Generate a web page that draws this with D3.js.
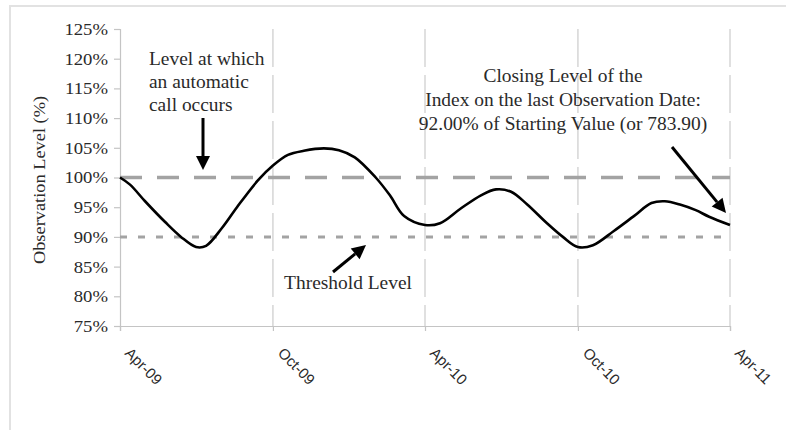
<!DOCTYPE html>
<html><head><meta charset="utf-8">
<script src="https://cdn.jsdelivr.net/npm/d3@7/dist/d3.min.js"></script>
<style>html,body{margin:0;padding:0;background:#fff;}</style>
</head><body><div id="chart"></div>
<script>
const obsDates = ["2009-04-01","2009-04-13","2009-05-01","2009-05-25","2009-06-13","2009-07-01","2009-07-13","2009-08-01","2009-08-19","2009-09-13","2009-10-01","2009-10-19","2009-11-07","2009-12-01","2009-12-19","2010-01-07","2010-02-01","2010-02-18","2010-03-07","2010-04-01","2010-04-19","2010-05-13","2010-06-07","2010-06-25","2010-07-13","2010-08-01","2010-08-25","2010-09-13","2010-10-01","2010-10-19","2010-11-13","2010-12-07","2010-12-28","2011-01-13","2011-02-01","2011-02-19","2011-03-07","2011-04-01"];
const obsLevels = [1.000,0.988,0.960,0.925,0.900,0.883,0.885,0.915,0.950,0.995,1.020,1.038,1.045,1.049,1.046,1.034,1.000,0.970,0.935,0.920,0.923,0.947,0.970,0.980,0.976,0.955,0.923,0.900,0.883,0.886,0.910,0.935,0.957,0.960,0.954,0.945,0.934,0.920];
const xTickDates = ["2009-04-01","2009-10-01","2010-04-01","2010-10-01","2011-04-01"];
const xTickLabels = ["Apr-09","Oct-09","Apr-10","Oct-10","Apr-11"];
const yTicks = [0.75,0.80,0.85,0.90,0.95,1.00,1.05,1.10,1.15,1.20,1.25];
const callLevel = 1.00;
const thresholdLevel = 0.90;
const annCall = ["Level at which","an automatic","call occurs"];
const annThreshold = ["Threshold Level"];
const annClose = ["Closing Level of the","Index on the last Observation Date:","92.00% of Starting Value (or 783.90)"];

const W=786,H=430;
const parse=d3.timeParse("%Y-%m-%d");
const svg=d3.select("#chart").append("svg").attr("width",W).attr("height",H);
const serif='"Liberation Serif","Times New Roman",serif';
const sans='"Liberation Sans",Arial,sans-serif';

svg.append("rect").attr("x",10).attr("y",6).attr("width",900).attr("height",600)
  .attr("fill","none").attr("stroke","#e2e2e2").attr("stroke-width",2);

const x=d3.scaleTime().domain([parse(xTickDates[0]),parse(xTickDates[xTickDates.length-1])]).range([120,730]);
const y=d3.scaleLinear().domain([0.75,1.25]).range([326,29]);

// vertical dashed grid
svg.append("g").selectAll("line").data(xTickDates.slice(1)).join("line")
  .attr("x1",d=>x(parse(d))).attr("x2",d=>x(parse(d)))
  .attr("y1",y(1.25)).attr("y2",y(0.75))
  .attr("stroke","#d6d6d6").attr("stroke-width",1.5).attr("stroke-dasharray","38,8");

// axes
const yAxis=svg.append("g").attr("transform","translate(120,0)")
  .call(d3.axisLeft(y).tickValues(yTicks).tickSize(6).tickPadding(7).tickFormat(d3.format(".0%")));
yAxis.select(".domain").attr("stroke","#c4c4c4").attr("stroke-width",1.2);
yAxis.selectAll(".tick line").attr("stroke","#c4c4c4").attr("stroke-width",1.2);
yAxis.selectAll(".tick text").attr("font-family",serif).attr("font-size",17).attr("fill","#2a2a2a")
  .attr("transform","scale(1.1,1)").attr("x",-12/1.1);

const xAxis=svg.append("g").attr("transform","translate(0,326)")
  .call(d3.axisBottom(x).tickValues(xTickDates.map(parse)).tickSize(5).tickFormat(""));
xAxis.select(".domain").attr("stroke","#c4c4c4").attr("stroke-width",1.2);
xAxis.selectAll(".tick line").attr("stroke","#c4c4c4").attr("stroke-width",1.2);
svg.append("g").selectAll("text").data(xTickDates).join("text")
  .attr("transform",d=>`translate(${x(parse(d))+4},${354}) rotate(45)`)
  .attr("font-family",sans).attr("font-size",15).attr("fill","#2a2a2a")
  .text((d,i)=>xTickLabels[i]);

// horizontal reference lines
svg.append("line").attr("x1",120).attr("x2",730).attr("y1",y(callLevel)).attr("y2",y(callLevel))
  .attr("stroke","#a3a3a3").attr("stroke-width",3.5).attr("stroke-dasharray","22,15");
svg.append("line").attr("x1",120).attr("x2",730).attr("y1",y(thresholdLevel)).attr("y2",y(thresholdLevel))
  .attr("stroke","#a3a3a3").attr("stroke-width",3).attr("stroke-dasharray","7,11");

// curve
const line=d3.line().x((d,i)=>x(parse(obsDates[i]))).y(d=>y(d)).curve(d3.curveCatmullRom.alpha(0.5));
svg.append("path").attr("d",line(obsLevels)).attr("fill","none").attr("stroke","#000").attr("stroke-width",2.6);

// y title
svg.append("text").attr("transform","translate(45,180) rotate(-90) scale(1.08,1)")
  .attr("text-anchor","middle").attr("font-family",serif).attr("font-size",17).attr("fill","#2a2a2a")
  .text("Observation Level (%)");

// annotations
function lines(arr,x0,y0,dy,anchor){
  arr.forEach((t,i)=>{
    svg.append("text").attr("transform",`translate(${x0},${y0+i*dy}) scale(1.08,1)`)
      .attr("text-anchor",anchor).attr("font-family",serif).attr("font-size",18).attr("fill","#2a2a2a").text(t);
  });
}
lines(annCall,149,65,23,"start");
lines(annThreshold,348,289,0,"middle");
lines(annClose,563,82,24,"middle");

// arrows
function arrow(x1,y1,x2,y2){
  const a=Math.atan2(y2-y1,x2-x1), L=14, Wd=7;
  const bx=x2-L*Math.cos(a), by=y2-L*Math.sin(a);
  svg.append("line").attr("x1",x1).attr("y1",y1).attr("x2",bx).attr("y2",by).attr("stroke","#000").attr("stroke-width",3);
  const px=-Math.sin(a), py=Math.cos(a);
  svg.append("path").attr("d",`M${x2},${y2}L${bx+px*Wd},${by+py*Wd}L${bx-px*Wd},${by-py*Wd}Z`).attr("fill","#000");
}
arrow(203,118,203,170);
arrow(333,272,366,245);
arrow(672,147,726,213);
</script></body></html>
